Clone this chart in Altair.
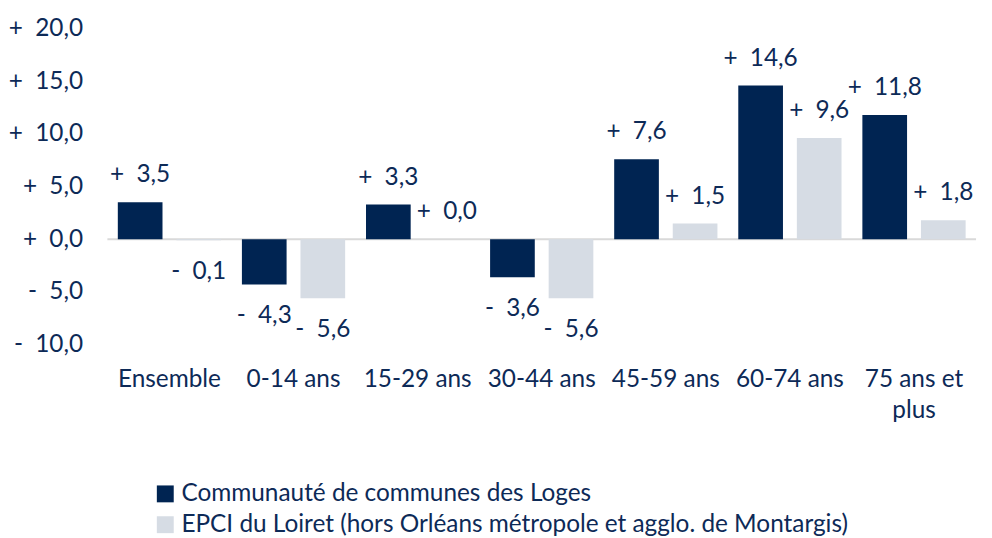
import altair as alt
import pandas as pd

categories = ["Ensemble", "0-14 ans", "15-29 ans", "30-44 ans", "45-59 ans", "60-74 ans", "75 ans et plus"]
series = [
    "Communauté de communes des Loges",
    "EPCI du Loiret (hors Orléans métropole et agglo. de Montargis)",
]
loges = [3.5, -4.3, 3.3, -3.6, 7.6, 14.6, 11.8]
epci = [-0.1, -5.6, 0.0, -5.6, 1.5, 9.6, 1.8]
y_ticks = [-10, -5, 0, 5, 10, 15, 20]

colors = ["#002452", "#D6DCE4"]
text_color = "#0D2A57"
FONT = "Lato"
FS = 24.5


def fmt(v):
    sign = "+" if v >= 0 else "-"
    return f"{sign}\u2002{abs(v):.1f}".replace(".", ",")


rows = []
for c, a, b in zip(categories, loges, epci):
    rows.append({"category": c, "series": series[0], "value": a, "label": fmt(a)})
    rows.append({"category": c, "series": series[1], "value": b, "label": fmt(b)})
df = pd.DataFrame(rows)

x_enc = alt.X(
    "category:N",
    sort=categories,
    scale=alt.Scale(paddingInner=0.168, paddingOuter=0.084),
    axis=alt.Axis(
        title=None,
        labelAngle=0,
        domain=False,
        ticks=False,
        labelPadding=23,
        labelFontSize=FS,
        labelColor=text_color,
        labelFont=FONT,
        labelOverlap=False,
        labelLineHeight=31,
        labelExpr="datum.value == '75 ans et plus' ? ['75 ans et', 'plus'] : datum.value",
    ),
)
xo_enc = alt.XOffset("series:N", sort=series, scale=alt.Scale(paddingInner=0.237, paddingOuter=0))
y_enc = alt.Y(
    "value:Q",
    scale=alt.Scale(domain=[-10, 20], nice=False, zero=False),
    axis=alt.Axis(
        values=y_ticks,
        title=None,
        domain=False,
        ticks=False,
        grid=False,
        labelPadding=25,
        labelFontSize=FS,
        labelColor=text_color,
        labelFont=FONT,
        labelExpr="(datum.value >= 0 ? '+' : '-') + '\u2002' + replace(format(abs(datum.value), '.1f'), '.', ',')",
    ),
)

base = alt.Chart(df)

zero = alt.Chart(pd.DataFrame({"z": [0]})).mark_rule(color="#D9D9D9", strokeWidth=2).encode(y="z:Q")

bars = base.mark_bar().encode(
    x=x_enc,
    xOffset=xo_enc,
    y=y_enc,
    color=alt.Color(
        "series:N",
        sort=series,
        scale=alt.Scale(domain=series, range=colors),
        legend=alt.Legend(
            orient="none",
            legendX=46,
            legendY=456,
            direction="vertical",
            title=None,
            symbolType="square",
            symbolSize=289,
            symbolStrokeWidth=0,
            labelFontSize=FS,
            labelFont=FONT,
            labelColor=text_color,
            labelLimit=900,
            labelOffset=4,
            rowPadding=6,
        ),
    ),
)

pos = base.transform_filter("datum.value >= 0").mark_text(
    dy=-27, baseline="middle", font=FONT, fontSize=FS, color=text_color
).encode(x=alt.X("category:N", sort=categories), xOffset=alt.XOffset("series:N", sort=series), y="value:Q", text="label:N")

neg = base.transform_filter("datum.value < 0").mark_text(
    dy=32, baseline="middle", font=FONT, fontSize=FS, color=text_color
).encode(x=alt.X("category:N", sort=categories), xOffset=alt.XOffset("series:N", sort=series), y="value:Q", text="label:N")

chart = (
    alt.layer(zero, bars, pos, neg)
    .properties(
        width=874,
        height=318,
        autosize=alt.AutoSizeParams(type="none"),
        padding={"left": 100, "top": 19, "right": 8, "bottom": 192},
    )
    .configure(font=FONT)
    .configure_view(strokeWidth=0)
)

chart.save("out.html", embed_options={"renderer": "svg", "actions": False})
